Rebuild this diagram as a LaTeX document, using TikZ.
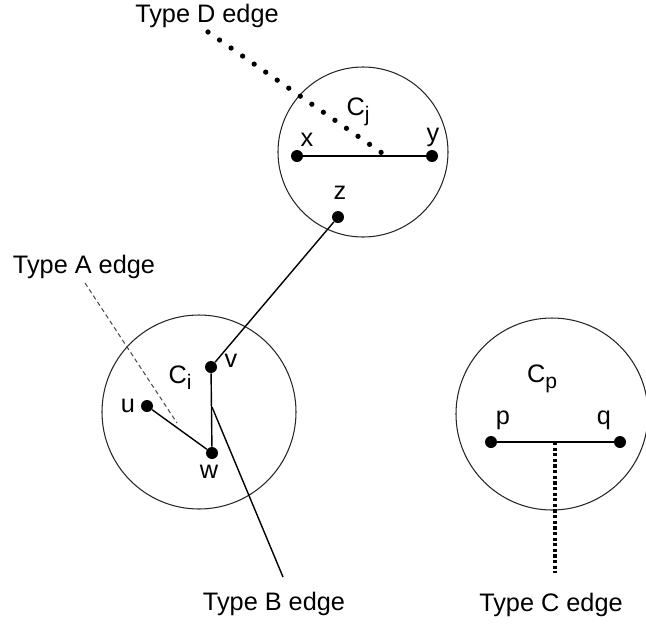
\documentclass[tikz,border=0pt]{standalone}
\usepackage{fontspec}
\setmainfont{Liberation Sans}
\usepackage{tikz}
\usetikzlibrary{positioning}

\newcommand{\clab}[1]{C\raisebox{-0.45ex}{\large #1}}

\begin{document}
\begin{tikzpicture}[x=0.02cm, y=-0.02cm,
        cluster/.style={draw, circle, line width=0.6pt, draw=black!85, inner sep=0pt},
        vert/.style={circle, fill=black, inner sep=0pt, minimum size=0.24cm},
        lbl/.style={font=\Large, inner sep=1pt},
        edgetxt/.style={font=\Large},
        link/.style={line width=0.8pt},
      ]
        \useasboundingbox (0,0) rectangle (646,623);

        % clusters
        \node[cluster, minimum size=170*0.02cm] (Cj) at (363,152) {};
        \node[cluster, minimum size=194*0.02cm] (Ci) at (199,412) {};
        \node[cluster, minimum size=192*0.02cm] (Cp) at (552,414) {};

        \node[lbl] at (358,112) {\clab{j}};
        \node[lbl] at (180,378) {\clab{i}};
        \node[lbl] at (542,379) {\clab{p}};

        % vertices
        \node[vert] (x) at (297,156) {};
        \node[vert] (y) at (432,156) {};
        \node[vert] (z) at (338,217) {};
        \node[vert] (v) at (211,367) {};
        \node[vert] (w) at (212,453) {};
        \node[vert] (u) at (147,406) {};
        \node[vert] (p) at (491,442) {};
        \node[vert] (q) at (620,442) {};

        \node[lbl] at (307,140) {x};
        \node[lbl] at (433,137) {y};
        \node[lbl] at (340,193) {z};
        \node[lbl] at (231,361) {v};
        \node[lbl] at (209,472) {w};
        \node[lbl] at (128,406) {u};
        \node[lbl] at (503,420) {p};
        \node[lbl] at (604,420) {q};

        % edges
        \draw[link] (x) -- (y);
        \draw[link] (z) -- (v);
        \draw[link] (v) -- (w);
        \draw[link] (u) -- (w);
        \draw[link] (p) -- (q);

        % edge type labels
        \node[edgetxt] (tD) at (207,16) {Type D edge};
        \node[edgetxt] (tA) at (84,267) {Type A edge};
        \node[edgetxt] (tB) at (274,604) {Type B edge};
        \node[edgetxt] (tC) at (551,605) {Type C edge};

        \coordinate (dStart) at (208,32);
        \coordinate (dEnd) at (382,153);
        \coordinate (aStart) at (85,283);
        \coordinate (aEnd) at (177,423);
        \coordinate (bStart) at (212,407);
        \coordinate (bEnd) at (283,577);
        \coordinate (cStart) at (555,442);
        \coordinate (cEnd) at (555,573);

        \draw[line width=3pt, line cap=round, dash pattern=on 0pt off 8pt]
          (dStart) -- (dEnd);
        \draw[black!70, line width=0.6pt, dash pattern=on 2.5pt off 1.8pt]
          (aStart) -- (aEnd);
        \draw[link] (bStart) -- (bEnd);
        \draw[line width=2pt, dash pattern=on 1.8pt off 1.4pt]
          (cStart) -- (cEnd);
      \end{tikzpicture}
\end{document}
